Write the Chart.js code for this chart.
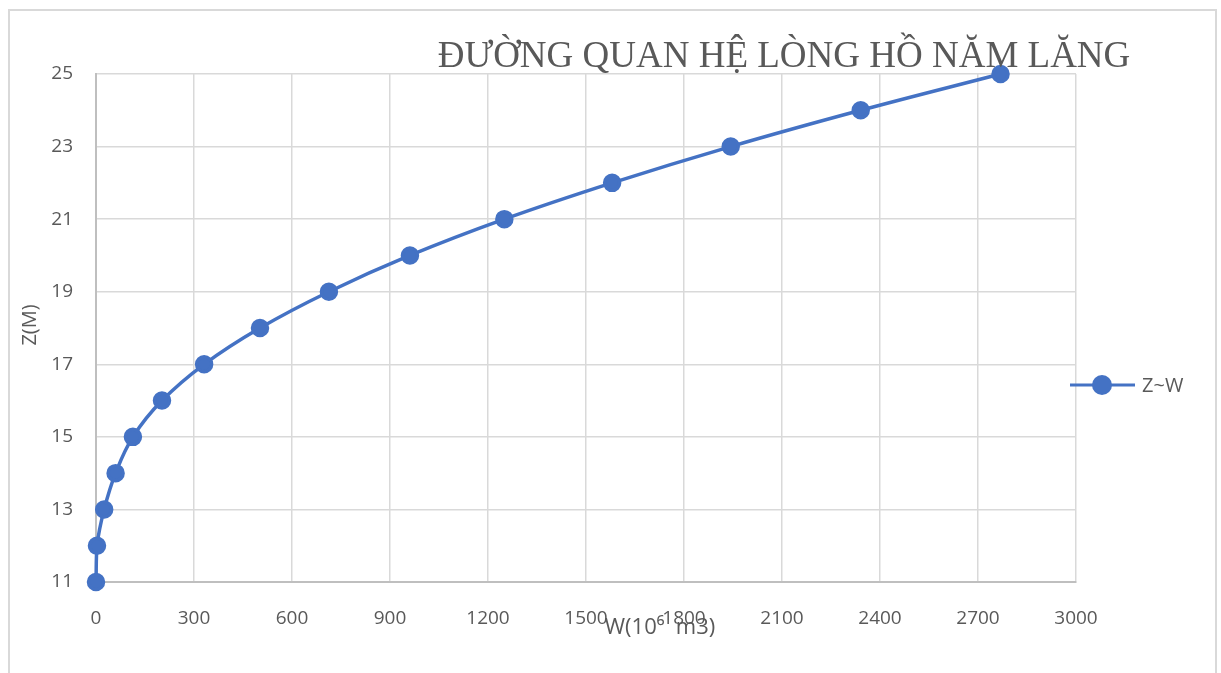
<!DOCTYPE html>
<html>
<head>
<meta charset="utf-8">
<script src="https://cdn.jsdelivr.net/npm/chart.js@4.4.1/dist/chart.umd.min.js"></script>
<style>
  html, body { margin: 0; padding: 0; background: #ffffff; }
  #wrap { width: 1221px; height: 673px; position: relative; }
</style>
</head>
<body>
<div id="wrap"><canvas id="c" width="1221" height="673"></canvas></div>
<script>
// Mực nước Z (m) và dung tích W (10^6 m3) của hồ Năm Lăng
const levelsZ = [11, 12, 13, 14, 15, 16, 17, 18, 19, 20, 21, 22, 23, 24, 25];
const volumesW = [0, 3, 25, 60, 113, 202, 331, 502, 713, 961, 1250, 1580, 1943, 2341, 2769];
const xTicks = [0, 300, 600, 900, 1200, 1500, 1800, 2100, 2400, 2700, 3000];
const yTicks = [11, 13, 15, 17, 19, 21, 23, 25];
const seriesName = 'Z~W';
const chartTitle = 'ĐƯỜNG QUAN HỆ LÒNG HỒ NĂM LĂNG';
const xTitle = 'W(10⁶  m3)';
const yTitle = 'Z(M)';

const points = volumesW.map((w, i) => ({ x: w, y: levelsZ[i] }));
const blue = '#4472C4';
const textGrey = '#595959';
const gridGrey = '#d9d9d9';
const sans = '"Open Sans", "Liberation Sans", sans-serif';

const frame = {
  id: 'frame',
  beforeDraw(chart) {
    const ctx = chart.ctx;
    ctx.save();
    ctx.fillStyle = '#ffffff';
    ctx.fillRect(0, 0, chart.width, chart.height);
    ctx.strokeStyle = '#d9d9d9';
    ctx.lineWidth = 2;
    ctx.beginPath();
    ctx.moveTo(9, chart.height + 5);
    ctx.lineTo(9, 10);
    ctx.lineTo(1216, 10);
    ctx.lineTo(1216, chart.height + 5);
    ctx.stroke();
    ctx.restore();
  }
};

const labels = {
  id: 'labels',
  afterDraw(chart) {
    const ctx = chart.ctx;
    const ds = chart.data.datasets[0];
    ctx.save();
    // tiêu đề
    ctx.fillStyle = textGrey;
    ctx.font = '37px "Liberation Serif", "Times New Roman", serif';
    ctx.textAlign = 'center';
    ctx.textBaseline = 'alphabetic';
    ctx.fillText(chartTitle, 784, 67);
    // tên trục
    ctx.font = '22px ' + sans;
    ctx.textBaseline = 'middle';
    ctx.fillText(xTitle, 660, 628);
    ctx.font = '20px ' + sans;
    ctx.save();
    ctx.translate(30, 325);
    ctx.rotate(-Math.PI / 2);
    ctx.fillText(yTitle, 0, 0);
    ctx.restore();
    // chú thích
    const ly = 385;
    ctx.strokeStyle = ds.borderColor;
    ctx.lineWidth = 3;
    ctx.beginPath();
    ctx.moveTo(1070, ly);
    ctx.lineTo(1135, ly);
    ctx.stroke();
    ctx.fillStyle = ds.pointBackgroundColor;
    ctx.beginPath();
    ctx.arc(1102, ly, 10, 0, Math.PI * 2);
    ctx.fill();
    ctx.fillStyle = textGrey;
    ctx.font = '20px ' + sans;
    ctx.textAlign = 'left';
    ctx.fillText(ds.label, 1142, ly + 1);
    ctx.restore();
  }
};

new Chart(document.getElementById('c'), {
  type: 'scatter',
  data: {
    datasets: [{
      label: seriesName,
      data: points,
      showLine: true,
      borderColor: blue,
      backgroundColor: blue,
      pointBackgroundColor: blue,
      pointBorderColor: blue,
      borderWidth: 3.5,
      pointRadius: 7.5,
      pointHoverRadius: 7.5,
      tension: 0.4,
      clip: false
    }]
  },
  options: {
    responsive: false,
    animation: false,
    devicePixelRatio: 1,
    layout: { padding: { left: 0, top: 74, right: 145, bottom: 0 } },
    plugins: {
      legend: { display: false },
      title: { display: false },
      tooltip: { enabled: false }
    },
    scales: {
      x: {
        type: 'linear',
        min: 0,
        max: 3000,
        afterBuildTicks(scale) { scale.ticks = xTicks.map(v => ({ value: v })); },
        afterFit(scale) { scale.height = 91; },
        grid: { color: gridGrey, lineWidth: 1.5, drawTicks: false },
        border: { color: '#bfbfbf', width: 2 },
        ticks: {
          color: textGrey,
          padding: 25,
          maxRotation: 0,
          callback: v => String(v),
          font: { family: sans, size: 19 }
        }
      },
      y: {
        type: 'linear',
        min: 11,
        max: 25,
        afterBuildTicks(scale) { scale.ticks = yTicks.map(v => ({ value: v })); },
        afterFit(scale) { scale.width = 96; },
        grid: { color: gridGrey, lineWidth: 1.5, drawTicks: false },
        border: { color: '#bfbfbf', width: 2 },
        ticks: {
          color: textGrey,
          padding: 23,
          callback: v => String(v),
          font: { family: sans, size: 19 }
        }
      }
    }
  },
  plugins: [frame, labels]
});
</script>
</body>
</html>
